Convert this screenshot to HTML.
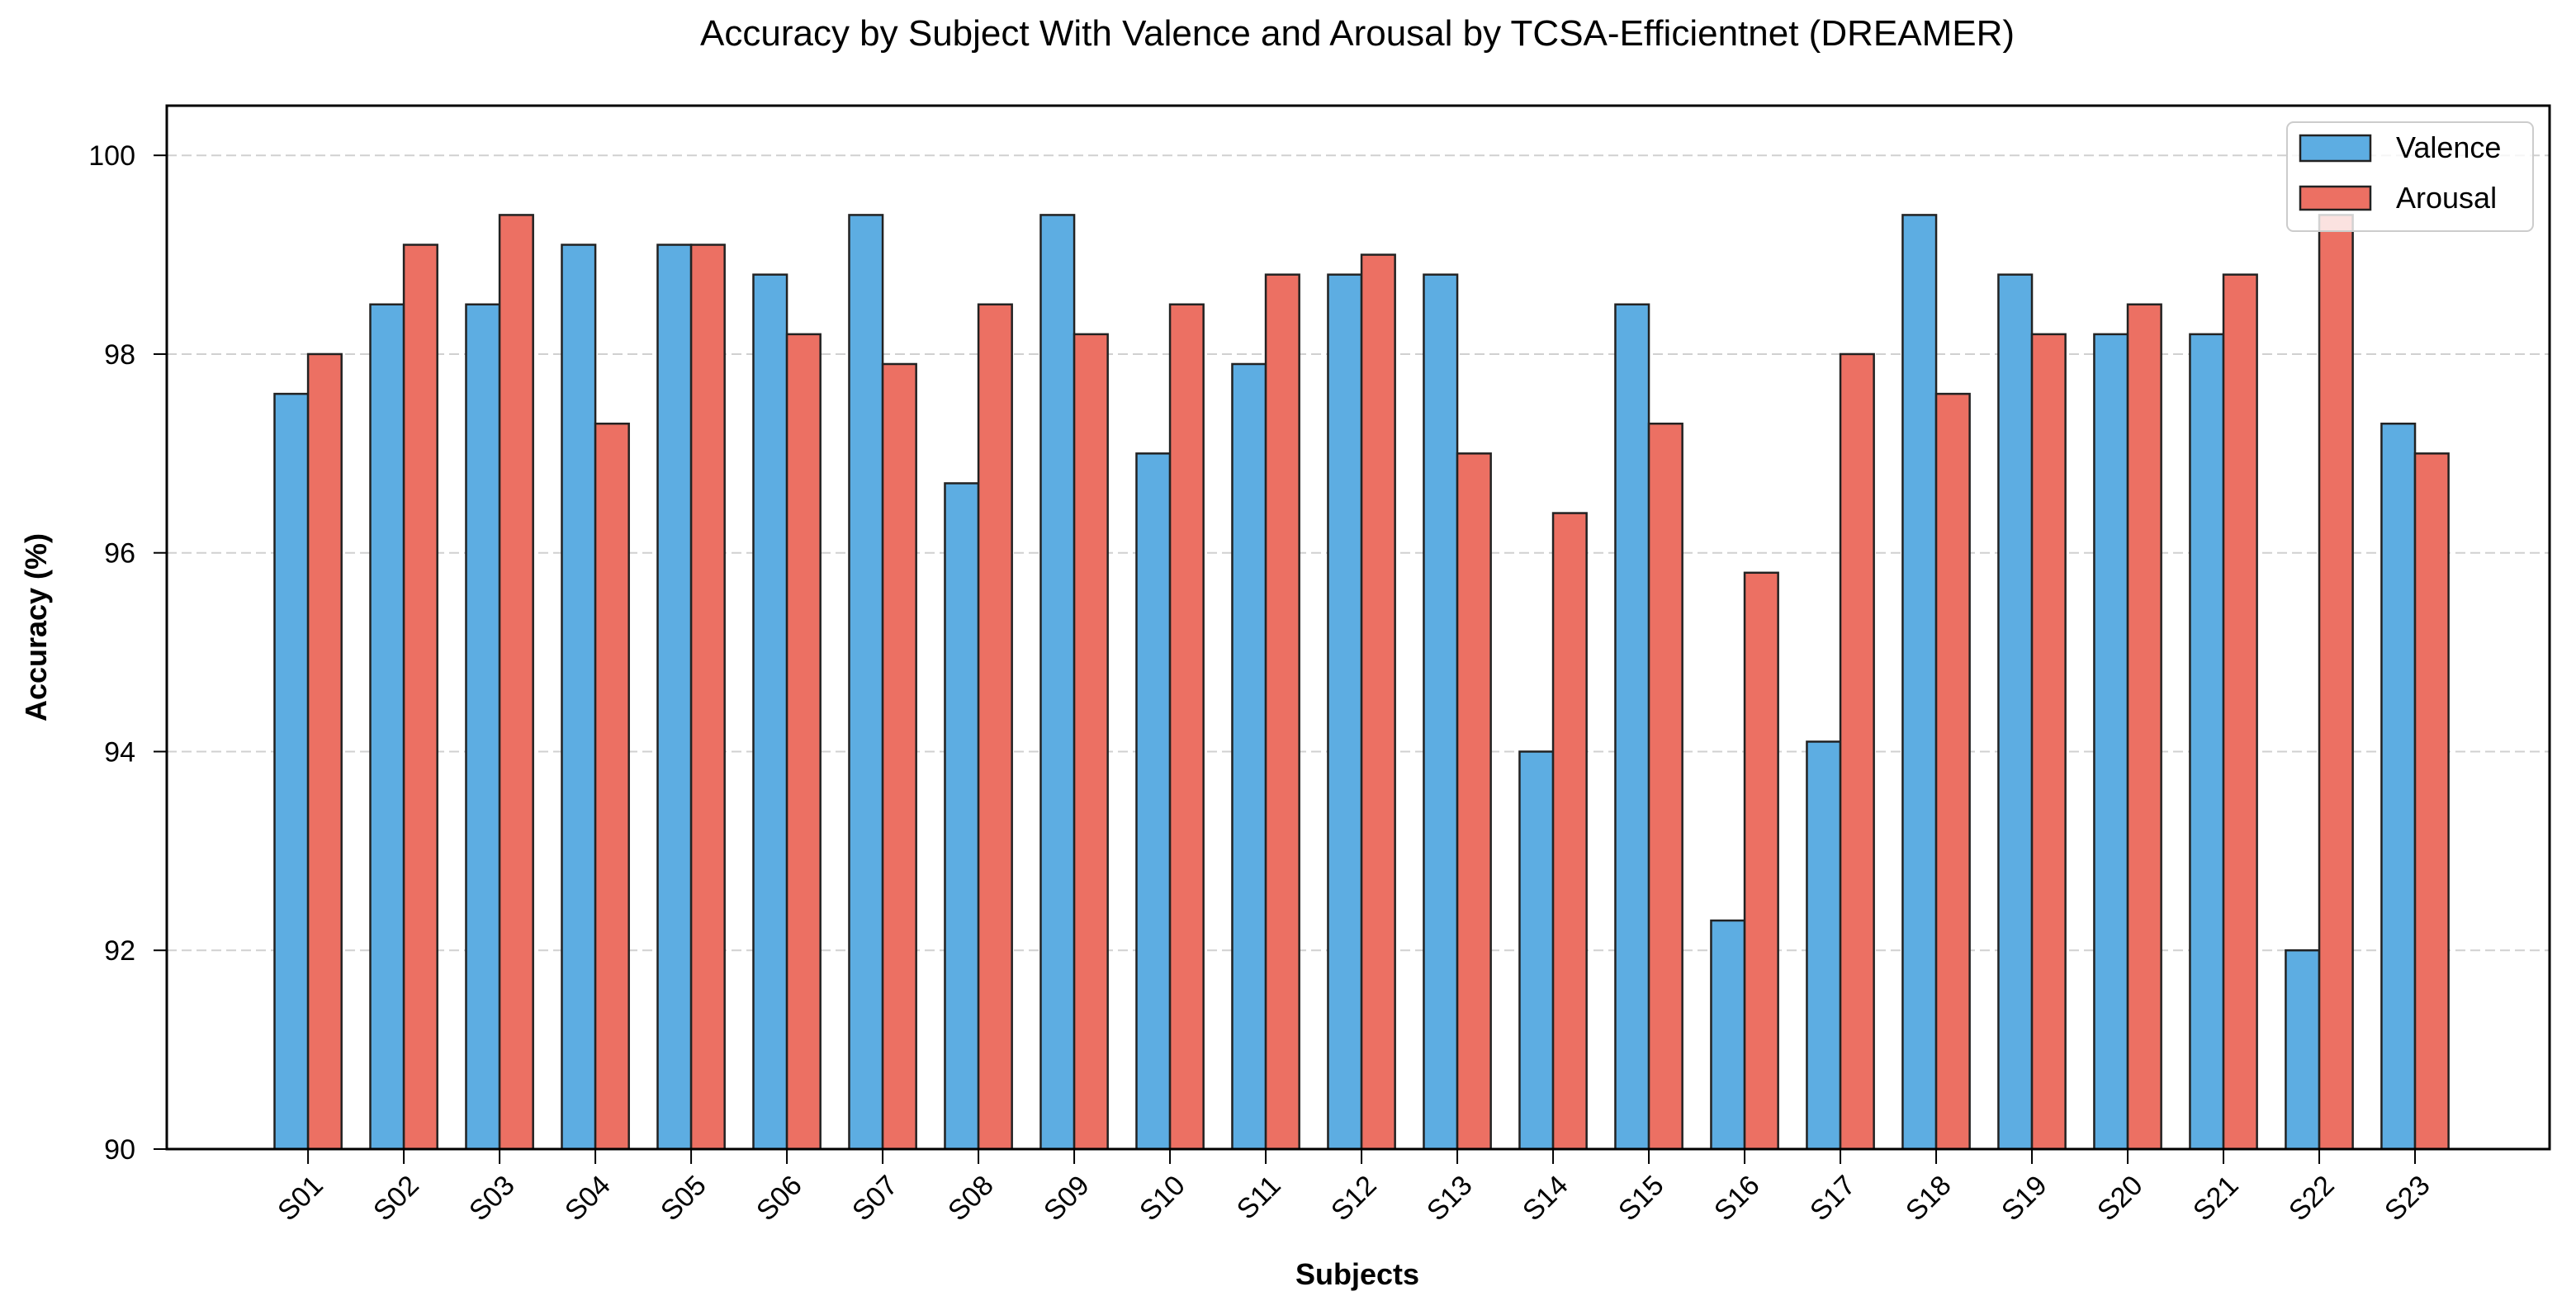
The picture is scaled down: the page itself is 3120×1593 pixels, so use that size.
<!DOCTYPE html>
<html><head><meta charset="utf-8"><style>
html,body{margin:0;padding:0;background:#fff;}
svg{display:block;font-family:"Liberation Sans",sans-serif;}
</style></head><body>
<svg id="chart" width="3120" height="1593" viewBox="0 0 3120 1593">
<text x="1644" y="55" text-anchor="middle" font-size="44" fill="#000">Accuracy by Subject With Valence and Arousal by TCSA-Efficientnet (DREAMER)</text>
<g id="grid"></g>
<g id="bars"></g>
<g id="axes"></g>
<text transform="translate(56,760) rotate(-90)" text-anchor="middle" font-size="36" font-weight="bold">Accuracy (%)</text>
<text x="1644" y="1556" text-anchor="middle" font-size="36" font-weight="bold">Subjects</text>
<g>
<rect x="2770" y="148" width="298" height="132" rx="8" fill="#fff" fill-opacity="0.8" stroke="#ccc" stroke-width="2"/>
<g>
<rect x="2786" y="164" width="85" height="31" fill="#5dade2" stroke="#222" stroke-width="2.5"/>
<text x="2902" y="191" font-size="36">Valence</text></g>
<g>
<rect x="2786" y="226" width="85" height="28" fill="#ec7063" stroke="#222" stroke-width="2.5"/>
<text x="2902" y="252" font-size="36">Arousal</text></g>
</g>
</svg>
<script>
const categories=["S01","S02","S03","S04","S05","S06","S07","S08","S09","S10","S11","S12","S13","S14","S15","S16","S17","S18","S19","S20","S21","S22","S23"];
const valence=[97.6,98.5,98.5,99.1,99.1,98.8,99.4,96.7,99.4,97.0,97.9,98.8,98.8,94.0,98.5,92.3,94.1,99.4,98.8,98.2,98.2,92.0,97.3];
const arousal=[98.0,99.1,99.4,97.3,99.1,98.2,97.9,98.5,98.2,98.5,98.8,99.0,97.0,96.4,97.3,95.8,98.0,97.6,98.2,98.5,98.8,99.4,97.0];
const yTicks=[90,92,94,96,98,100];
const NS="http://www.w3.org/2000/svg";
const L=202,R=3088,T=128,B=1392;
const xMin=-1.475,xMax=22+1.405;
const yMin=90,yMax=100.5;
const xs=i=>L+(i-xMin)/(xMax-xMin)*(R-L);
const ys=v=>B-(v-yMin)/(yMax-yMin)*(B-T);
const bw=0.35*(xs(1)-xs(0));
function mk(tag,attrs,parent){const e=document.createElementNS(NS,tag);for(const k in attrs)e.setAttribute(k,attrs[k]);parent.appendChild(e);return e;}
const grid=document.getElementById('grid'),bars=document.getElementById('bars'),axes=document.getElementById('axes');
yTicks.forEach(t=>{
  const y=ys(t);
  if(t>yMin){const g=mk('line',{x1:L,x2:R,y1:y,y2:y,stroke:'#d0d0d0','stroke-width':2,'stroke-dasharray':'12,6'},grid);
  
  }
  const tk=mk('line',{x1:L-16,x2:L,y1:y,y2:y,stroke:'#000','stroke-width':2},axes);
  
  
  const lb=mk('text',{x:L-38,y:y+12,'text-anchor':'end','font-size':34},axes);
  lb.textContent=t;
  
  
});
categories.forEach((c,i)=>{
  const cx=xs(i);
  const bv=mk('rect',{x:cx-bw,y:ys(valence[i]),width:bw,height:B-ys(valence[i]),fill:'#5dade2',stroke:'#222','stroke-width':2.5},bars);
  
  
  const ba=mk('rect',{x:cx,y:ys(arousal[i]),width:bw,height:B-ys(arousal[i]),fill:'#ec7063',stroke:'#222','stroke-width':2.5},bars);
  
  
  const tk=mk('line',{x1:cx,x2:cx,y1:B,y2:B+18,stroke:'#000','stroke-width':2},axes);
  
  
  const ax=cx+20,ay=B+46;
  const lb=mk('text',{x:ax,y:ay,'text-anchor':'end','font-size':34,transform:`rotate(-45 ${ax} ${ay})`},axes);
  lb.textContent=c;
  
  
});
const fr=mk('rect',{x:L,y:T,width:R-L,height:B-T,fill:'none',stroke:'#000','stroke-width':3},axes);


</script>
</body></html>
